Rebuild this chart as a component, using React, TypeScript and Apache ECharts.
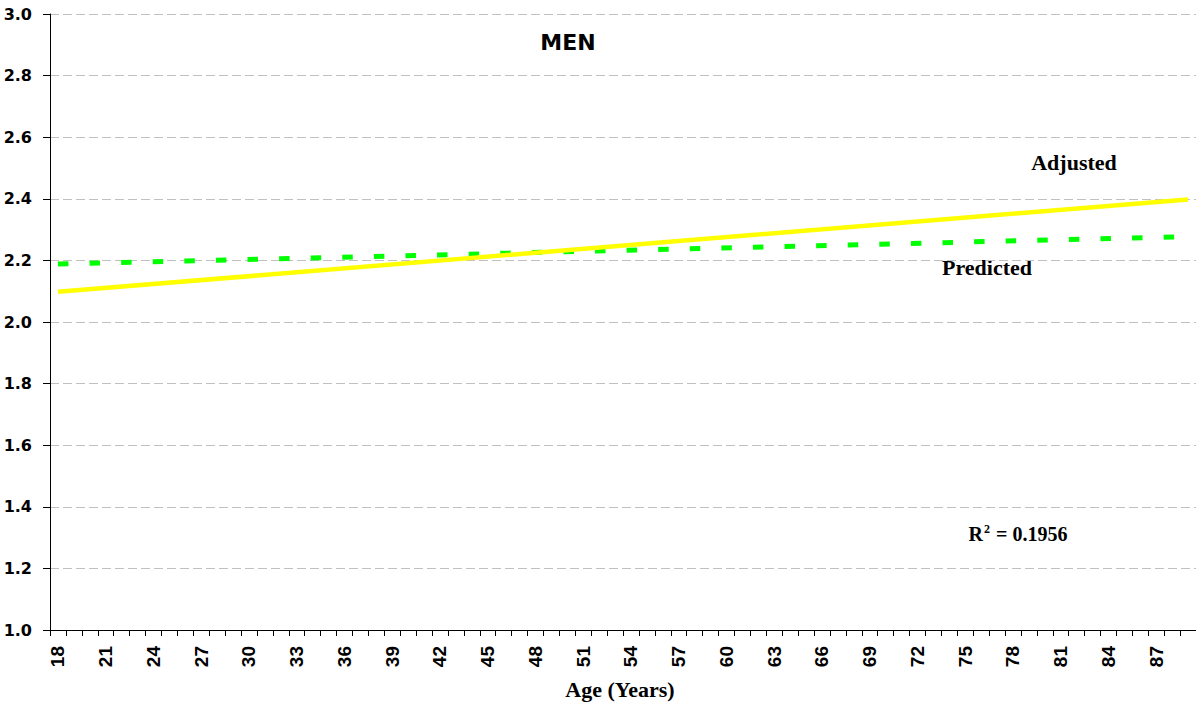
import React, { useEffect, useRef } from "react";
import * as echarts from "echarts";

const ages: string[] = [
  "18", "19", "20", "21", "22", "23", "24", "25", "26", "27", "28", "29",
  "30", "31", "32", "33", "34", "35", "36", "37", "38", "39", "40", "41",
  "42", "43", "44", "45", "46", "47", "48", "49", "50", "51", "52", "53",
  "54", "55", "56", "57", "58", "59", "60", "61", "62", "63", "64", "65",
  "66", "67", "68", "69", "70", "71", "72", "73", "74", "75", "76", "77",
  "78", "79", "80", "81", "82", "83", "84", "85", "86", "87", "88", "89",
];

// Fitted lines: [age, value] at the ends of each line
const adjustedPoints: [string, number][] = [
  ["18", 2.098],
  ["89", 2.398],
];
const predictedPoints: [string, number][] = [
  ["18", 2.188],
  ["89", 2.277],
];

const yMin = 1.0;
const yMax = 3.0;
const yStep = 0.2;

const titleText = "MEN";
const xAxisTitle = "Age (Years)";
const adjustedLabel = "Adjusted";
const predictedLabel = "Predicted";
const r2Value = "0.1956";

const SANS_WIDE = "'DejaVu Sans', 'Liberation Sans', Arial, sans-serif";
const SANS_NARROW = "'Liberation Sans Narrow', 'Liberation Sans', Arial, sans-serif";
const SERIF = "'Liberation Serif', 'Times New Roman', serif";

export default function App() {
  const ref = useRef<HTMLDivElement>(null);

  useEffect(() => {
    if (!ref.current) return;
    const chart = echarts.init(ref.current, null, { renderer: "svg" });
    chart.setOption({
      animation: false,
      backgroundColor: "#ffffff",
      grid: { left: 50, right: -6, top: 14, bottom: 76, containLabel: false },
      xAxis: {
        type: "category",
        data: ages,
        boundaryGap: true,
        axisLine: { show: true, lineStyle: { color: "#000", width: 1 } },
        axisTick: { show: true, interval: 0, length: 6, lineStyle: { color: "#000" } },
        axisLabel: {
          interval: 2,
          rotate: 90,
          margin: 16,
          color: "#000",
          fontSize: 19,
          fontWeight: "bold",
          fontFamily: SANS_NARROW,
        },
        splitLine: { show: false },
      },
      yAxis: {
        type: "value",
        min: yMin,
        max: yMax,
        interval: yStep,
        axisLine: { show: true, lineStyle: { color: "#000", width: 1 } },
        axisTick: { show: true, length: 7, lineStyle: { color: "#000" } },
        axisLabel: {
          margin: 18,
          color: "#000",
          fontSize: 16,
          fontWeight: "bold",
          fontFamily: SANS_WIDE,
          formatter: (v: number) => v.toFixed(1),
        },
        splitLine: {
          show: true,
          lineStyle: { color: "#c0c0c0", width: 1, type: [9, 4] },
        },
      },
      series: [
        {
          name: "Predicted",
          type: "line",
          data: predictedPoints,
          symbol: "none",
          lineStyle: { color: "#00ff00", width: 5, type: [10.5, 21.1] },
          z: 2,
        },
        {
          name: "Adjusted",
          type: "line",
          data: adjustedPoints,
          symbol: "none",
          lineStyle: { color: "#ffff00", width: 4.5 },
          z: 3,
        },
      ],
      graphic: [
        {
          type: "text",
          x: 568,
          y: 42,
          style: {
            text: titleText,
            fill: "#000",
            font: `bold 22px ${SANS_WIDE}`,
            textAlign: "center",
            textVerticalAlign: "middle",
          },
        },
        {
          type: "text",
          x: 1074,
          y: 162,
          style: {
            text: adjustedLabel,
            fill: "#000",
            font: `bold 22px ${SERIF}`,
            textAlign: "center",
            textVerticalAlign: "middle",
          },
        },
        {
          type: "text",
          x: 987,
          y: 267,
          style: {
            text: predictedLabel,
            fill: "#000",
            font: `bold 22px ${SERIF}`,
            textAlign: "center",
            textVerticalAlign: "middle",
          },
        },
        {
          type: "text",
          x: 1018,
          y: 533,
          style: {
            text: `{a|R}{b|2}{a| = ${r2Value}}`,
            textAlign: "center",
            textVerticalAlign: "middle",
            rich: {
              a: { font: `bold 20px ${SERIF}`, fill: "#000", verticalAlign: "bottom" },
              b: { font: `bold 12px ${SERIF}`, fill: "#000", verticalAlign: "top", padding: [0, 1, 9, 1] },
            },
          },
        },
        {
          type: "text",
          x: 620,
          y: 689,
          style: {
            text: xAxisTitle,
            fill: "#000",
            font: `bold 22px ${SERIF}`,
            textAlign: "center",
            textVerticalAlign: "middle",
          },
        },
      ],
    });
    return () => chart.dispose();
  }, []);

  return (
    <div
      ref={ref}
      style={{ position: "fixed", left: 0, top: 0, width: 1196, height: 706, background: "#fff" }}
    />
  );
}
